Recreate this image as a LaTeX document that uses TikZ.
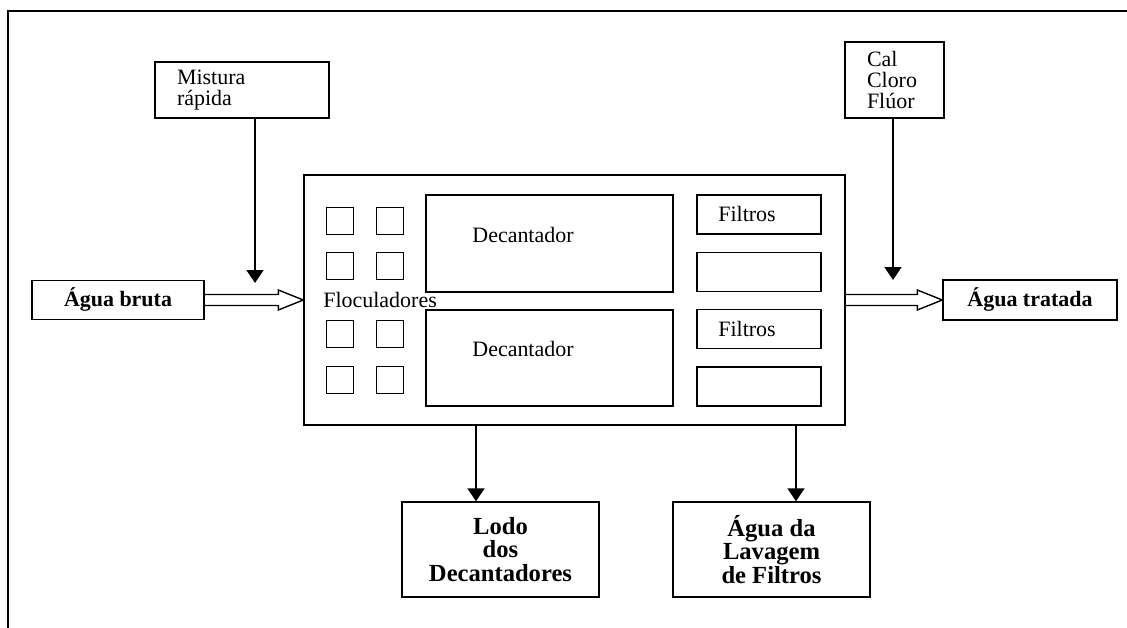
\documentclass[tikz,border=0pt]{standalone}
\usepackage{fontspec}
\setmainfont{Liberation Serif}
\usetikzlibrary{arrows.meta,calc}

\tikzset{
	box/.style={draw, line width=0.8pt, inner sep=0pt},
	flow/.style={line width=1pt, -{Triangle[length=0.26cm,width=0.34cm]}},
	hollow/.style={line width=0.8pt},
	plain/.style={font=\fontsize{12.5}{12}\selectfont},
	heavy/.style={font=\bfseries\fontsize{12.5}{14}\selectfont},
	waste/.style={box, align=center, minimum width=3.94cm, minimum height=1.9cm, font=\bfseries\fontsize{14}{13.5}\selectfont},
}

\begin{document}
\begin{tikzpicture}[x=0.02cm, y=-0.02cm]
	\useasboundingbox (0,0) rectangle (1127,628);
	% Frame
	\draw[line width=1.1pt] (8,628) -- (8,11) -- (1127,11);
	
	% Main unit
	\node[box, minimum width=10.82cm, minimum height=5cm] (main) at (574.5,300) {};
	
	% Floculadores
	\foreach \x in {340,390}
		\foreach \y in {221,266,334,380}
			\node[box, minimum size=0.54cm] (floc-\x-\y) at (\x,\y) {};
	\node[plain, anchor=west, inner sep=0pt] (floc) at (323,300) {Floculadores};
	
	% Decantadores
	\node[box, minimum width=4.94cm, minimum height=1.94cm] (dec1) at (549.5,243.5) {};
	\node[box, minimum width=4.94cm, minimum height=1.92cm] (dec2) at (549.5,358) {};
	\node[plain] (dec1-txt) at (523,235) {Decantador};
	\node[plain] (dec2-txt) at (523,349) {Decantador};
	
	% Filtros
	\foreach \y/\i in {214.5/1, 272/2, 329/3, 386.5/4}
		\node[box, minimum width=2.48cm, minimum height=0.78cm] (filt-\i) at (759,\y) {};
	\node[plain, anchor=west, inner sep=0pt] (filt1-txt) at (718,214) {Filtros};
	\node[plain, anchor=west, inner sep=0pt] (filt3-txt) at (718,329) {Filtros};
	
	% Inlet and outlet
	\node[box, heavy, minimum width=3.44cm, minimum height=0.78cm] (bruta) at (118,300) {Água bruta};
	\node[box, heavy, minimum width=3.48cm, minimum height=0.8cm] (tratada) at (1030,300) {Água tratada};
	\draw[hollow] ($(bruta.east)+(0,-5.5)$) -- ($(main.west)+(-25,-5.5)$) -- ($(main.west)+(-25,-10)$)
		-- (main.west) -- ($(main.west)+(-25,10)$) -- ($(main.west)+(-25,5.5)$) -- ($(bruta.east)+(0,5.5)$);
	\draw[hollow] ($(main.east)+(0,-5.5)$) -- ($(tratada.west)+(-25,-5.5)$) -- ($(tratada.west)+(-25,-10)$)
		-- (tratada.west) -- ($(tratada.west)+(-25,10)$) -- ($(tratada.west)+(-25,5.5)$) -- ($(main.east)+(0,5.5)$);
	
	% Chemicals
	\node[box, plain, align=left, text width=2.6cm, inner xsep=0.44cm, minimum height=1.12cm] (mistura) at (242,90) {Mistura\\rápida};
	\node[box, plain, align=left, text width=1.1cm, inner xsep=0.44cm, minimum height=1.52cm] (cal) at (894.5,80) {Cal\\Cloro\\Flúor};
	\coordinate (mixtip) at (255,283);
	\coordinate (caltip) at (893,280);
	\draw[flow] (mistura.south -| mixtip) -- (mixtip);
	\draw[flow] (cal.south -| caltip) -- (caltip);
	
	% Residues
	\node[waste] (lodo) at (500.5,549.5) {Lodo\\dos\\Decantadores};
	\node[waste] (lavagem) at (771.5,549.5) {Água da\\Lavagem\\de Filtros};
	\coordinate (sludge) at (476,0);
	\coordinate (wash) at (796,0);
	\draw[flow] (main.south -| sludge) -- (lodo.north -| sludge);
	\draw[flow] (main.south -| wash) -- (lavagem.north -| wash);
\end{tikzpicture}
\end{document}
